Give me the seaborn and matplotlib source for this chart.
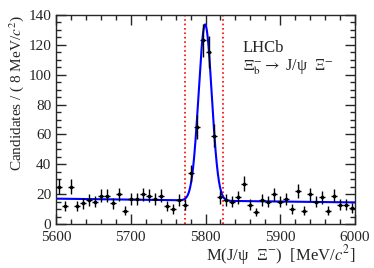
import numpy as np
import seaborn as sns
import matplotlib.pyplot as plt
from matplotlib.ticker import MultipleLocator

# bin centres (8 MeV bins) and candidate counts
mass = [5604 + 8 * i for i in range(50)]
counts = [25, 12, 25, 12, 14, 16, 15, 19, 19, 14,
          20, 9, 17, 17, 20, 19, 17, 19, 12, 10,
          16, 13, 34, 65, 123, 115, 59, 18, 16, 15,
          18, 27, 13, 8, 16, 15, 20, 15, 17, 10,
          22, 9, 20, 15, 18, 9, 19, 13, 13, 11]

# fit model parameters (gaussian signal + exponential background)
sig_mean = 5799.5
sig_width = 8.8
sig_amp = 118.0
bkg_start = 17.0
bkg_slope = 0.0004

# signal window
window = [5773, 5823]

sns.set_style("ticks")
plt.rcParams['font.family'] = ['Liberation Serif', 'DejaVu Serif']
plt.rcParams['mathtext.fontset'] = 'stix'

fig = plt.figure(figsize=(3.74, 2.68), dpi=100)
ax = fig.add_axes([0.150, 0.164, 0.799, 0.780])

m = np.array(mass)
n = np.array(counts)
ax.errorbar(m, n, yerr=np.sqrt(n), xerr=4, fmt='o', ms=1.6, color='black',
            elinewidth=1.0, capsize=0, zorder=3)

grid = np.linspace(5600, 6000, 801)
fit = bkg_start * np.exp(-bkg_slope * (grid - 5600)) + \
    sig_amp * np.exp(-0.5 * ((grid - sig_mean) / sig_width) ** 2)
sns.lineplot(x=grid, y=fit, color='#0000ff', linewidth=1.5, ax=ax, zorder=2)

for w in window:
    ax.axvline(w, color='red', linestyle=':', linewidth=1.2, zorder=1)

ax.set_xlim(5600, 6000)
ax.set_ylim(0, 140)
ax.xaxis.set_major_locator(MultipleLocator(100))
ax.xaxis.set_minor_locator(MultipleLocator(20))
ax.yaxis.set_major_locator(MultipleLocator(20))
ax.yaxis.set_minor_locator(MultipleLocator(5))
ax.tick_params(which='both', direction='in', top=True, right=True,
               labelsize=11, width=1.0)
ax.tick_params(which='major', length=7)
ax.tick_params(which='minor', length=3.5)
ax.tick_params(axis='x', which='major', pad=5)
for s in ax.spines.values():
    s.set_linewidth(1.0)

ax.set_xlabel('M(J/ψ  Ξ$^{-}$)  [MeV/$c^{2}$]', fontsize=12,
              loc='right', labelpad=-1)
ax.set_ylabel(r'Candidates / ( 8 MeV/$c^{2}$)', fontsize=11,
              loc='top', labelpad=2)

ax.text(0.625, 0.842, 'LHCb', transform=ax.transAxes, fontsize=12, va='center')
ax.text(0.625, 0.751, r'$\Xi_{\rm b}^{-}$$\rightarrow$ J/ψ  Ξ$^{-}$',
        transform=ax.transAxes, fontsize=11.5, va='center')

fig.savefig('out.png', dpi=100)
